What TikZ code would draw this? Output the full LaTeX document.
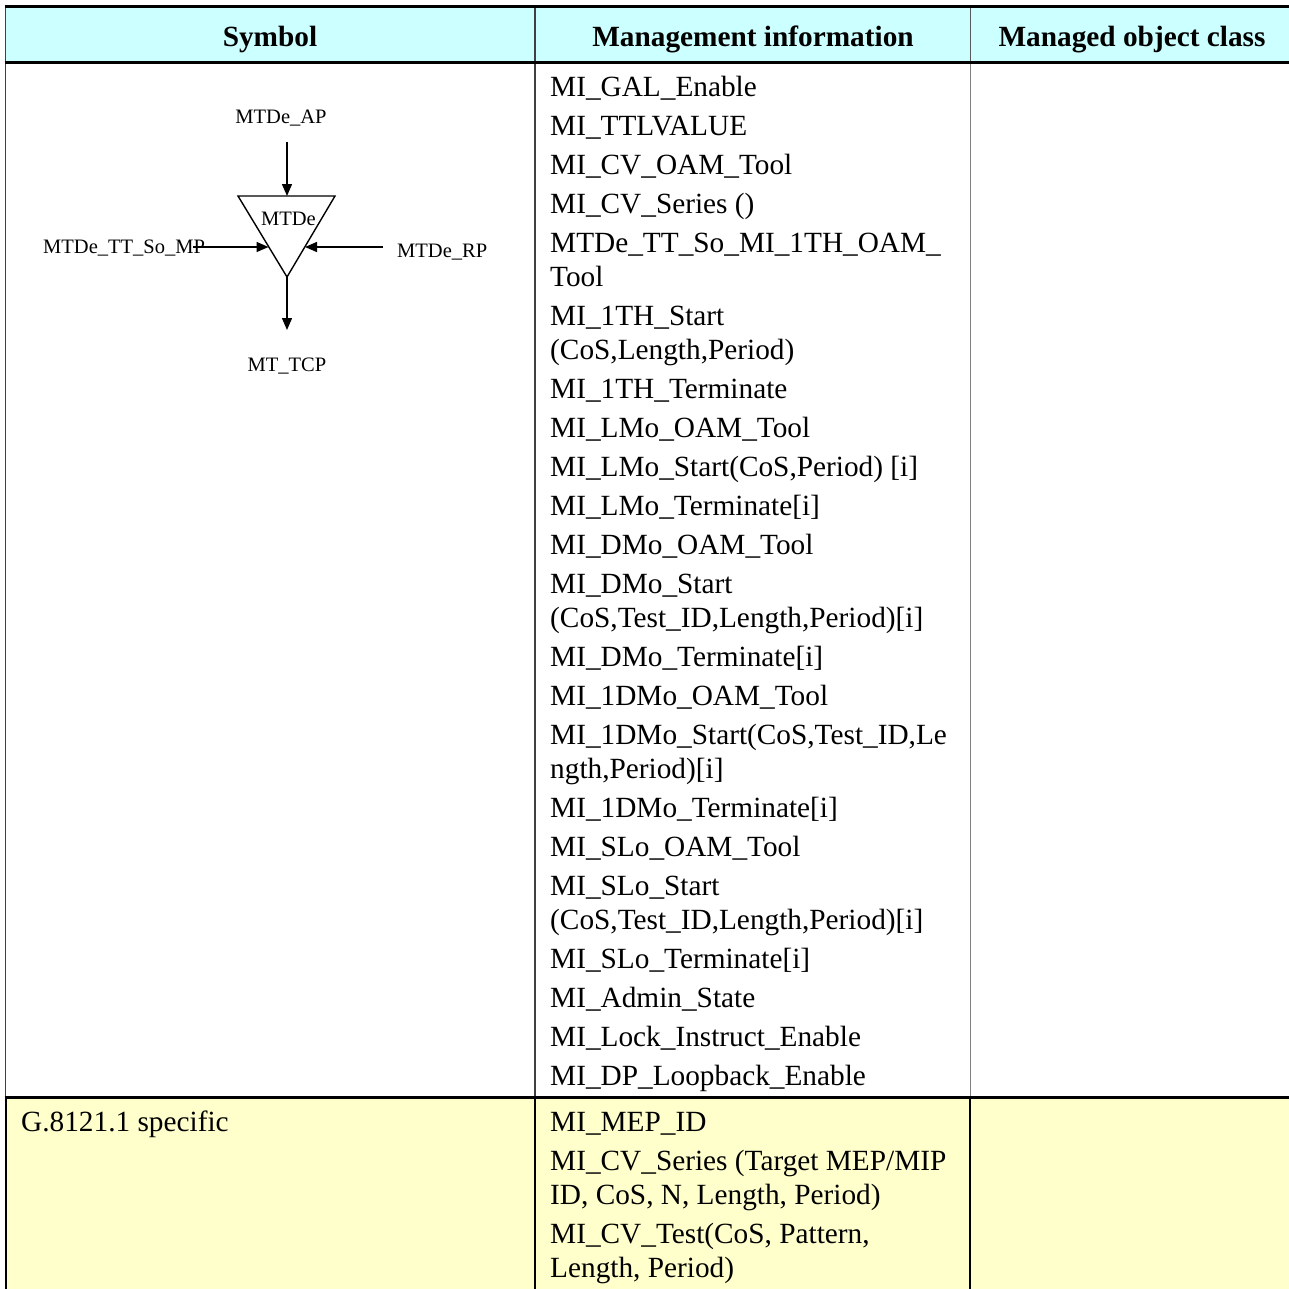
\documentclass[tikz,border=0pt]{standalone}
\usepackage{fontspec}
\setmainfont{Liberation Serif}
\usetikzlibrary{arrows.meta}
\definecolor{hdrcyan}{HTML}{CCFFFF}
\definecolor{rowyellow}{HTML}{FFFFCC}
\definecolor{rulegray}{HTML}{404040}
\tikzset{
  mitext/.style={anchor=base west,inner sep=0pt,font=\fontsize{29.3}{34}\selectfont},
  hdrtext/.style={anchor=base,inner sep=0pt,font=\fontsize{29.3}{34}\selectfont\bfseries},
  symtext/.style={inner sep=0pt,font=\fontsize{20.5}{24}\selectfont},
  thickrule/.style={line width=2.6pt,black},
  thinrule/.style={line width=1.2pt,rulegray},
  sigarrow/.style={line width=1.4pt,-{Triangle[length=12pt,width=10pt]}},
  triline/.style={line width=1.4pt,line join=miter}
}
\begin{document}
\begin{tikzpicture}[x=1pt,y=-1pt]
\useasboundingbox (0,0) rectangle (1289,1288);
\clip (0,0) rectangle (1289,1288);
% fills
\fill[hdrcyan] (6,7) rectangle (1300,62.5);
\fill[rowyellow] (6,1097.5) rectangle (1300,1300);
% vertical rules
\draw[thinrule] (5.8,6) -- (5.8,1097.5);
\draw[line width=1.6pt,black] (5.8,1097.5) -- (5.8,1300);
\draw[thinrule] (535,7) -- (535,1097.5);
\draw[line width=1.8pt,black] (535,1097.5) -- (535,1300);
\draw[line width=1pt,gray!70!black] (970,7) -- (970,62.5);
\draw[line width=1pt,gray] (970,62.5) -- (970,1097.5);
\draw[line width=1.8pt,black] (970,1097.5) -- (970,1300);
% horizontal rules
\draw[thickrule] (4.5,6.7) -- (1300,6.7);
\draw[thickrule] (4.5,62.5) -- (1300,62.5);
\draw[thickrule] (4.5,1097.5) -- (1300,1097.5);
% header
\node[hdrtext] (hsym) at (270,46.5) {Symbol};
\node[hdrtext] (hmi) at (753,46.5) {Management information};
\node[hdrtext] (hmoc) at (1132,46.5) {Managed object class};
% symbol
\coordinate (tl) at (238,196);
\coordinate (tr) at (335,196);
\coordinate (bt) at (287,277);
\draw[triline] (tl) -- (tr) -- (bt) -- cycle;
\node[symtext,anchor=base] (mtde) at (288.5,225) {MTDe};
\node[symtext,anchor=base] (ap) at (281,123) {MTDe\_AP};
\node[symtext,anchor=base west] (mp) at (43,253) {MTDe\_TT\_So\_MP};
\node[symtext,anchor=base west] (rp) at (397,257) {MTDe\_RP};
\node[symtext,anchor=base] (tcp) at (287,371) {MT\_TCP};
\coordinate (apstart) at (287,142);
\coordinate (aptip) at (287,196);
\coordinate (mpstart) at (193,247);
\coordinate (mptip) at (268.5,247);
\coordinate (rpstart) at (383,247);
\coordinate (rptip) at (305,247);
\coordinate (tcpend) at (287,330);
\draw[sigarrow] (apstart) -- (aptip);
\draw[sigarrow] (mpstart) -- (mptip);
\draw[sigarrow] (rpstart) -- (rptip);
\draw[sigarrow] (bt) -- (tcpend);
% management information
\node[mitext] (m1) at (550,96) {MI\_GAL\_Enable};
\node[mitext] (m2) at (550,135) {MI\_TTLVALUE};
\node[mitext] (m3) at (550,174) {MI\_CV\_OAM\_Tool};
\node[mitext] (m4) at (550,213) {MI\_CV\_Series ()};
\node[mitext] (m5a) at (550,252) {MTDe\_TT\_So\_MI\_1TH\_OAM\_};
\node[mitext] (m5b) at (550,286) {Tool};
\node[mitext] (m6a) at (550,325) {MI\_1TH\_Start};
\node[mitext] (m6b) at (550,359) {(CoS,Length,Period)};
\node[mitext] (m7) at (550,398) {MI\_1TH\_Terminate};
\node[mitext] (m8) at (550,437) {MI\_LMo\_OAM\_Tool};
\node[mitext] (m9) at (550,476) {MI\_LMo\_Start(CoS,Period) [i]};
\node[mitext] (m10) at (550,515) {MI\_LMo\_Terminate[i]};
\node[mitext] (m11) at (550,554) {MI\_DMo\_OAM\_Tool};
\node[mitext] (m12a) at (550,593) {MI\_DMo\_Start};
\node[mitext] (m12b) at (550,627) {(CoS,Test\_ID,Length,Period)[i]};
\node[mitext] (m13) at (550,666) {MI\_DMo\_Terminate[i]};
\node[mitext] (m14) at (550,705) {MI\_1DMo\_OAM\_Tool};
\node[mitext] (m15a) at (550,744) {MI\_1DMo\_Start(CoS,Test\_ID,Le};
\node[mitext] (m15b) at (550,778) {ngth,Period)[i]};
\node[mitext] (m16) at (550,817) {MI\_1DMo\_Terminate[i]};
\node[mitext] (m17) at (550,856) {MI\_SLo\_OAM\_Tool};
\node[mitext] (m18a) at (550,895) {MI\_SLo\_Start};
\node[mitext] (m18b) at (550,929) {(CoS,Test\_ID,Length,Period)[i]};
\node[mitext] (m19) at (550,968) {MI\_SLo\_Terminate[i]};
\node[mitext] (m20) at (550,1007) {MI\_Admin\_State};
\node[mitext] (m21) at (550,1046) {MI\_Lock\_Instruct\_Enable};
\node[mitext] (m22) at (550,1085) {MI\_DP\_Loopback\_Enable};
% G.8121.1 specific row
\node[mitext] (gspec) at (21,1131) {G.8121.1 specific};
\node[mitext] (g1) at (550,1131) {MI\_MEP\_ID};
\node[mitext] (g2a) at (550,1170) {MI\_CV\_Series (Target MEP/MIP};
\node[mitext] (g2b) at (550,1204) {ID, CoS, N, Length, Period)};
\node[mitext] (g3a) at (550,1243) {MI\_CV\_Test(CoS, Pattern,};
\node[mitext] (g3b) at (550,1277) {Length, Period)};
\end{tikzpicture}
\end{document}
